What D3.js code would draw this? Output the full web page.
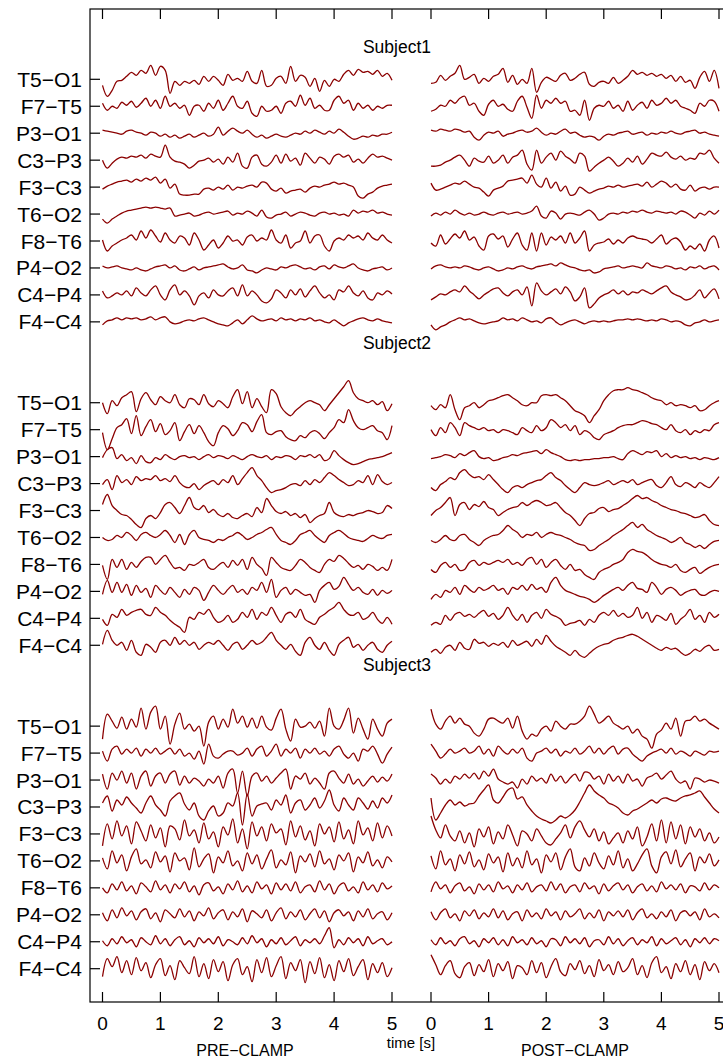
<!DOCTYPE html>
<html>
<head>
<meta charset="utf-8">
<script src="https://cdn.jsdelivr.net/npm/d3@7"></script>
<style>
  body { margin: 0; background: #fff; }
  text { font-family: "Liberation Sans", Arial, sans-serif; fill: #000; }
</style>
</head>
<body>
<div id="chart"></div>
<script>
// channel names (top to bottom in each block)
const channels = ["T5−O1", "F7−T5", "P3−O1", "C3−P3", "F3−C3", "T6−O2", "F8−T6", "P4−O2", "C4−P4", "F4−C4"];
const subjects = ["Subject1", "Subject2", "Subject3"];
const tickValues = [0, 1, 2, 3, 4, 5];
const sampleStep = 5 / 60; // seconds between samples, 61 samples per segment

// traces, one array per channel (arbitrary units, up positive)
const s1Pre = [
  [-6,-17,-11,-2,-1,3,7,4,9,6,14,4,13,9,-14,-2,-6,-2,-4,-1,-5,3,-2,3,-1,-6,5,-1,1,-2,8,-2,-4,9,-7,-6,1,3,-4,13,-2,4,2,-7,1,-12,-1,-7,0,-2,5,9,4,10,7,8,5,9,3,6,-1],
  [3,-4,0,-2,4,1,5,-1,3,8,0,6,-2,10,0,3,-2,1,-9,0,1,-5,3,-2,6,-4,3,10,0,-2,5,-7,-10,0,-5,-4,0,-7,3,5,0,11,1,8,-2,1,-4,-4,6,10,3,6,-4,3,-2,1,-4,0,-2,1,1],
  [3,2,1,0,-1,2,3,1,0,-2,1,0,-3,-1,-4,-2,-5,-3,-1,-4,-2,0,-3,-1,6,-2,2,5,2,0,3,-1,-4,-2,-5,-3,-1,-3,-4,-2,0,-1,2,0,3,1,-1,2,0,4,1,-3,-6,-5,-3,-4,-2,-3,-1,-1,1],
  [0,-8,-3,1,3,2,4,3,5,2,6,4,3,15,3,-1,-2,-4,-8,-5,-1,0,2,-2,1,-4,3,-2,7,-6,-8,3,5,-4,-6,-2,5,-3,6,-1,2,-5,7,2,-3,3,1,-4,4,6,3,5,-2,1,-3,2,6,3,4,2,0],
  [-2,1,3,5,6,7,5,8,6,9,7,10,4,8,-1,3,-7,-8,-8,-7,-7,-2,-1,-3,0,-2,2,-3,0,-1,1,2,0,5,4,-2,-4,-1,-6,-4,-3,-2,-5,-1,1,0,2,3,5,3,4,2,0,-9,-11,-7,-5,-1,1,2,3],
  [-5,-9,-5,-2,1,3,4,5,6,7,6,7,6,5,6,-2,-1,0,1,-2,-1,1,2,0,1,2,3,-1,1,0,3,1,-2,4,-3,-4,-1,0,2,-2,0,2,1,-1,-2,1,2,0,1,-1,0,-2,4,1,3,2,4,1,2,0,-1],
  [1,-10,-5,-2,1,3,6,1,10,3,11,5,-1,8,1,-2,5,3,-4,8,1,-9,-4,1,-7,-2,5,0,1,-4,4,6,0,3,1,11,1,-2,6,-7,-2,0,10,-2,5,6,-5,-10,0,3,1,6,3,5,1,8,3,1,6,1,-2],
  [2,0,1,2,0,-1,-2,0,-2,-3,-1,1,2,3,0,2,-2,-3,-1,1,-2,0,1,2,3,4,1,-1,0,3,-2,-3,-5,-2,0,-1,-2,1,0,2,3,1,-1,0,-2,1,2,-1,3,1,0,2,4,0,-2,-3,-1,0,1,-2,0],
  [4,-3,-1,2,0,4,-1,7,2,-1,5,9,0,-5,5,10,0,4,-1,-10,-1,2,-3,5,0,-1,4,7,-1,10,-1,4,0,-6,-8,-4,5,2,-3,5,0,6,-2,4,9,2,-3,0,-5,5,3,9,2,-1,4,-3,-5,2,0,4,1],
  [-3,1,2,4,2,4,3,4,2,3,5,2,4,5,0,-2,-1,1,2,1,3,4,2,0,-2,-3,-4,-1,2,-2,2,6,3,1,2,3,1,4,2,3,1,3,2,4,1,2,0,-1,2,-1,-4,-1,1,3,4,2,1,3,1,0,-1]
];
const s1Post = [
  [-4,-3,4,-1,3,6,14,0,2,5,-4,1,-2,3,5,11,-3,4,-5,0,-4,11,-13,-3,2,0,-2,4,6,-1,1,5,7,-5,-7,-3,-2,-4,2,-4,-1,3,9,5,7,4,6,3,5,1,4,-2,3,-3,-1,-9,2,8,-2,9,-9],
  [-5,-3,1,0,6,3,8,10,1,3,-5,-9,2,6,0,2,-3,-5,5,10,-1,-12,11,-2,6,3,8,3,5,-5,-4,-9,6,-14,-2,1,0,5,-2,1,-5,5,-4,1,4,-2,6,1,3,8,3,6,0,-2,-4,-7,3,0,6,5,-5],
  [3,2,4,3,2,4,3,1,2,-4,-7,-2,1,0,2,-3,-1,0,2,3,1,2,5,1,-2,0,-1,2,4,0,1,-2,-4,-3,-4,-7,-3,-1,-2,0,1,2,-1,0,1,-2,0,-1,1,0,2,0,-1,1,2,3,0,1,-1,-2,-3],
  [-6,-6,-5,-2,0,3,5,0,-6,2,-1,-2,4,-3,0,5,-3,3,5,10,-4,-10,10,-3,3,7,0,9,4,1,-3,7,4,-11,-7,-3,0,3,-1,-6,-3,2,-2,4,-4,1,7,5,4,8,3,1,4,0,2,1,7,6,10,2,-3],
  [4,-3,-2,0,2,4,3,6,3,0,-1,-5,-9,-3,-1,1,6,7,8,9,4,12,3,0,9,-1,5,-4,1,-8,-7,0,-3,-6,-4,-2,-1,1,0,2,0,1,2,3,1,5,0,3,6,4,0,3,-2,-3,2,-4,-1,0,-2,0,0],
  [-2,1,-1,2,0,4,1,-1,1,-1,0,2,0,-1,1,2,0,1,2,0,1,3,8,-2,-4,3,1,-5,0,1,0,-1,2,4,0,-6,-4,0,1,0,2,1,3,2,4,2,1,3,2,1,2,0,3,2,-1,-4,1,-1,3,0,4],
  [-2,-5,6,-3,2,7,3,10,1,4,-5,-9,5,7,2,5,-6,2,8,-4,-9,8,-10,8,-4,4,1,5,-2,8,-2,3,10,-10,-4,-2,-1,2,-3,1,-2,3,5,3,2,1,-2,2,6,-3,1,3,-1,-9,-5,-8,-3,-10,1,5,-7],
  [-1,2,3,1,0,1,0,2,1,-1,-2,0,1,-1,-3,-2,0,-1,1,2,0,-1,1,2,3,4,2,5,3,1,0,-2,-3,-2,-5,-4,-1,0,1,2,0,1,2,1,0,5,2,1,0,2,1,-1,0,-2,1,0,2,-1,1,2,-2],
  [-5,-2,1,0,3,5,3,9,4,0,-4,0,3,6,7,2,-1,3,5,0,8,-11,12,4,0,3,6,1,8,3,-6,-2,7,-13,-9,-3,0,2,5,1,4,0,3,2,5,3,1,4,7,9,3,0,-2,-5,-4,0,5,-3,2,6,-4],
  [-3,-8,-5,-3,0,2,4,2,3,1,-1,-2,-1,0,1,4,2,3,1,4,2,0,1,-1,3,4,0,-3,-1,1,2,0,-2,0,1,0,1,0,1,2,2,3,2,3,2,1,2,1,3,2,0,1,0,-3,-4,-1,0,2,0,1,2]
];
const s2Pre = [
  [0,-11,2,-3,5,8,11,-9,4,10,3,-2,6,2,0,8,-2,-5,4,3,-2,8,-1,-4,2,-1,-5,6,13,-1,11,-5,4,-4,-10,13,9,-4,-10,-13,-8,-4,0,2,0,-2,-8,-2,4,10,16,22,10,4,2,0,2,-2,1,-8,-1],
  [-3,-20,-9,2,5,11,-4,14,-6,3,10,-2,6,-5,-1,7,-11,-2,5,-4,4,-3,-12,-16,-3,4,1,-6,-1,7,5,-2,8,15,-3,-5,-2,-1,-7,-10,-11,-6,-8,-3,-1,-4,-9,-3,2,10,7,20,9,2,0,2,4,-1,-3,-10,4],
  [-1,7,9,-2,2,-4,-1,-7,1,-5,-6,-1,-3,2,-1,-3,0,1,-1,0,-3,0,2,-1,1,0,-2,1,-1,-3,0,2,0,-1,1,-3,0,-1,1,0,-3,1,0,2,-1,2,-4,-2,6,1,-3,-6,-8,-7,-5,-3,-2,-1,0,2,4],
  [-1,4,-6,8,1,4,-1,7,3,5,4,8,3,5,2,8,1,-3,-4,0,-6,-2,1,3,-1,4,1,8,-1,5,11,16,8,3,-4,-9,-7,-6,-4,-1,0,-2,3,-1,4,1,6,11,8,4,1,-2,-1,3,1,8,-1,9,2,-1,1],
  [6,16,5,0,-4,-5,-9,-14,-17,-8,-5,-8,-2,6,8,3,-3,5,13,3,1,5,-2,1,-4,-6,-3,-7,-8,-5,-3,-6,3,-2,12,5,-1,-3,-1,-5,-3,-7,-4,-12,-8,-5,-3,8,-2,-5,-6,-4,-5,-3,-2,0,-1,-3,-2,5,2],
  [0,-3,-2,2,0,5,2,-3,3,5,2,0,3,7,2,-5,3,-7,3,7,0,-2,-3,-5,-2,-3,0,2,5,2,-2,0,3,5,8,10,3,-3,-5,-7,-3,3,5,7,2,-2,-5,2,5,7,4,0,-2,-3,-4,-1,2,0,-1,2,3],
  [-1,-15,5,-3,5,-5,2,-3,3,7,7,0,5,9,2,-4,-3,-6,0,-1,2,5,-3,-5,-1,2,-3,4,-1,5,-5,7,0,-4,-11,7,2,-3,-5,-6,-1,5,2,-3,-6,-8,0,5,3,9,6,1,-3,-1,-5,0,-2,-6,-3,-6,5],
  [-3,11,-1,9,-1,7,-4,6,-1,3,-6,6,1,-3,4,-1,-6,2,-3,4,1,-9,-1,6,1,-3,2,6,-1,2,-3,4,1,9,-1,12,-6,1,4,-3,2,-1,-4,-3,-11,1,6,9,2,5,14,7,1,4,-1,-3,2,-4,1,-2,1],
  [-1,-7,4,1,9,3,6,8,9,4,3,11,6,3,-2,-6,-9,-14,1,-1,6,4,9,1,-4,-2,3,-4,-1,6,1,9,-1,6,3,11,3,-4,4,6,1,9,-1,-4,-6,1,4,8,11,16,9,4,3,6,-1,1,6,-1,-5,1,-6],
  [1,15,5,0,3,-5,5,-7,-10,1,-2,-7,3,5,0,8,1,5,0,3,-4,0,3,1,5,0,-5,1,3,-4,0,5,1,3,8,13,5,0,-4,1,-6,-10,3,8,0,-4,3,-5,-10,1,5,8,-2,1,-5,0,3,-4,-7,0,4]
];
const s2Post = [
  [-3,-7,-2,-5,8,-7,-17,-5,-3,0,-5,-2,2,3,5,7,8,5,2,-2,-3,0,0,7,8,7,8,5,2,-3,-8,-10,-13,-20,-13,-7,2,8,12,13,13,15,13,12,10,8,5,3,2,-2,0,-3,-2,-3,-5,-3,-8,-7,-3,0,2],
  [0,-6,2,-3,7,2,-6,7,4,2,0,2,-1,0,-3,0,-1,-3,-5,2,-1,-3,4,-1,2,10,7,2,5,-1,4,-5,-1,-3,-8,-10,-5,-3,-1,2,4,5,5,7,9,8,6,5,2,0,5,-1,-3,0,-5,-1,-3,0,-1,5,7],
  [-2,-1,0,2,1,-1,3,1,4,6,0,-2,-1,-4,-3,-1,0,2,1,3,4,5,6,3,7,4,2,0,-3,-4,-3,-4,-3,-3,-2,-2,-1,-1,0,-2,-3,3,6,4,2,5,4,6,0,3,-1,1,-1,0,-2,-1,-3,-1,-2,-3,-1],
  [-4,-7,-1,2,6,4,11,14,9,6,7,4,9,4,-1,-6,-9,-4,-2,-4,-1,1,3,4,8,11,6,3,-2,-6,-9,-4,1,-1,-2,-1,1,3,-1,1,3,1,4,-1,1,3,4,-2,-4,1,7,-1,-3,1,-1,-4,1,-2,-4,1,7],
  [-5,0,3,8,13,-5,6,8,1,6,4,9,3,1,-5,-2,1,3,4,8,5,8,10,8,5,6,8,3,-2,-5,-10,-15,-8,-3,-2,2,3,-1,1,2,5,8,12,15,12,13,10,8,5,3,1,0,-2,-3,-5,-7,-6,-4,-10,-14,-15],
  [-3,-5,-2,2,-2,-3,2,3,-2,-5,-8,-3,0,2,3,7,12,8,5,0,3,2,5,0,3,5,3,2,0,-2,-5,-7,-8,-13,-12,-8,-5,-2,2,5,8,12,15,10,13,8,5,2,0,-2,-5,-3,0,-5,-7,-10,-8,-11,-7,-4,-3],
  [-5,-8,-1,2,-3,0,-6,-5,2,4,-1,2,0,2,4,2,5,0,2,-1,5,7,0,5,-3,2,5,-1,-5,0,-6,-5,-10,-13,-15,-8,-5,-3,0,2,5,12,15,13,12,9,5,2,0,-1,-3,0,-6,-8,-5,-3,-9,-6,-3,-1,0],
  [-8,-3,-6,1,-1,4,-3,6,2,-1,4,1,3,6,1,3,-3,4,2,6,1,7,2,4,-1,9,14,6,1,-1,-3,-5,-6,-8,-11,-8,-4,-1,2,4,1,6,9,3,2,-1,9,4,-3,2,4,1,-4,-1,1,2,-3,-4,-1,1,0],
  [-7,-4,-6,3,-2,4,6,2,4,1,5,8,2,5,-1,3,11,3,-2,4,-4,3,6,0,9,4,2,-1,-7,-5,-4,-2,-7,-1,-4,3,6,3,8,2,5,1,3,11,0,6,-4,3,1,-2,5,-6,-1,3,9,-1,3,-4,6,1,4],
  [-7,-4,-8,-2,0,-5,3,-3,-4,6,2,3,-1,2,0,3,-2,5,0,2,4,-1,6,1,10,4,-1,-4,-7,-10,-5,-10,-12,-8,-4,-1,1,2,5,7,8,10,11,9,6,3,0,-3,-5,-2,-4,-3,-7,-10,-8,-4,-6,-2,0,-5,-4]
];
const s3Pre = [
  [-13,12,5,-2,9,-3,7,-1,18,-3,14,20,-3,10,-18,2,13,-3,2,-5,0,-20,4,10,-3,7,-1,17,3,10,-1,8,-2,10,-1,-4,8,17,-3,-15,7,-1,0,4,-2,5,-10,18,0,-3,6,18,-7,8,-3,-13,7,-3,-10,3,7],
  [2,-8,4,7,-1,4,0,5,-3,4,0,5,-1,2,5,-1,4,-3,0,-6,2,-11,9,-3,-5,-1,2,2,-2,0,5,-3,4,7,-3,2,9,-3,4,0,5,-5,4,0,5,-1,2,-3,4,7,-1,-5,0,-8,4,2,7,-1,-10,-1,6],
  [6,-9,7,0,9,-3,7,-9,4,9,-6,4,7,-3,6,9,-5,4,-3,2,-1,-6,1,-3,4,-8,7,11,-13,9,-16,4,7,-1,4,-3,2,7,11,-9,4,1,7,-4,2,-3,-9,7,9,2,-3,6,-4,1,-6,-1,4,-2,3,-1,6],
  [4,11,-4,7,2,10,4,-1,-6,4,11,2,-3,-9,6,11,14,3,-3,4,-9,-13,-4,1,-9,-6,4,1,14,-18,13,-9,1,3,4,-3,7,2,12,-6,4,7,-3,2,9,-1,6,17,2,-4,9,2,-3,9,4,-2,6,-1,9,4,12],
  [-12,10,-5,13,-2,8,-10,12,3,-7,9,-4,6,-13,8,5,-6,14,-2,4,-9,11,-5,2,-13,7,-1,15,-9,5,-15,12,-2,7,-7,10,1,5,-11,13,-3,8,-6,3,-12,10,0,7,-8,12,-5,4,-10,13,-1,6,-7,11,-4,8,-2],
  [3,-8,10,-2,6,-10,4,12,-3,1,-7,9,-1,5,-11,8,0,3,-9,13,-6,2,7,-12,4,-2,10,-5,0,-10,8,-3,6,-8,2,11,-7,1,-4,9,-12,5,-1,7,-6,10,-3,2,-9,6,0,8,-11,4,-2,9,-5,1,-7,4,-1],
  [0,-5,4,-2,6,-3,2,-6,5,1,-4,7,-2,3,-5,4,-1,6,-4,2,-7,3,5,-3,1,-6,4,-2,7,-4,2,-5,6,-1,3,-6,5,-2,4,-3,6,-5,1,3,-4,7,-2,4,-6,2,5,-3,1,-5,6,-2,3,-4,5,-1,2],
  [2,-6,5,-3,7,-1,4,-5,3,6,-4,2,-7,5,1,-3,6,-2,4,-6,3,-1,7,-4,2,5,-5,3,-2,6,-7,4,1,-3,5,-6,2,7,-4,3,-2,5,-5,1,6,-3,4,-7,2,5,-1,3,-6,4,-2,6,-4,1,3,-5,2],
  [1,-4,3,-2,5,-1,2,-5,4,0,-3,6,-2,3,-4,2,5,-3,1,-5,4,-1,3,-2,5,-4,2,0,-3,4,-2,6,-1,3,-5,2,-2,4,-3,1,5,-4,2,-1,3,-2,6,14,-6,2,-3,4,-1,3,-4,5,-2,1,3,-3,0],
  [-8,10,2,12,-4,8,-6,11,-2,6,-9,4,10,-7,3,-11,8,1,-5,12,-8,5,-10,9,-3,7,-12,4,10,-6,2,-13,9,-4,11,-8,3,12,-10,6,-2,9,-14,7,-5,11,-9,4,-12,8,-3,10,-7,2,9,-11,5,-4,6,-8,1]
];
const s3Post = [
  [17,2,-3,5,10,3,8,2,0,-7,-10,-3,7,8,5,3,8,-2,10,-5,-13,-8,-10,-3,0,-5,5,0,-3,2,2,5,10,20,12,3,6,10,3,0,-3,0,-7,-3,-10,-13,-22,-8,-4,3,-3,8,-10,5,6,10,5,7,3,0,-3],
  [9,2,-5,-1,4,0,2,5,0,2,7,-1,4,-3,7,2,-1,4,0,5,-5,-8,0,2,5,0,4,-3,2,0,5,-1,2,7,0,5,-1,4,7,-1,4,5,-1,-5,-8,-3,0,2,4,0,5,-1,2,0,-3,2,0,-2,2,1,2],
  [6,2,-4,1,-3,4,1,6,2,7,1,9,4,11,1,-2,-4,-2,-8,1,-4,4,-1,2,-3,6,-1,4,-3,2,6,-1,8,7,1,4,-4,6,-1,4,-3,6,-1,1,-6,2,4,7,1,5,9,1,-3,-1,-9,2,1,-2,0,-1,-3],
  [9,-13,-6,2,7,2,5,1,3,4,11,17,22,7,4,10,17,19,8,10,2,-4,-9,-12,-14,-16,-13,-9,-11,-8,-3,5,14,22,16,12,9,4,2,-1,-6,-8,-4,-2,1,4,7,4,8,9,7,6,9,11,12,14,16,10,4,-2,-6],
  [18,4,-4,9,-2,-7,3,-9,1,-13,5,-3,7,-10,2,-5,9,-1,-12,3,0,-7,5,-2,-9,-11,-5,1,9,-4,7,13,4,-3,5,-7,2,-10,-4,1,-9,3,-5,7,-12,-3,10,-7,14,-9,12,-5,9,-10,7,-3,5,-7,1,-9,-3],
  [5,-8,10,-4,2,-10,6,-3,9,-6,1,-9,7,-2,4,-11,8,-5,3,-7,10,-4,2,-12,6,-1,8,-9,4,12,-6,-10,3,-5,8,-2,-8,5,-4,10,-7,2,-10,-3,6,12,-5,-12,4,9,-3,11,-6,2,8,-10,4,-2,7,-5,1],
  [-4,6,-1,3,-5,2,5,-3,1,-6,4,-2,3,-4,6,-1,2,-5,3,-2,5,-4,1,3,-3,6,-2,4,-5,1,3,-4,5,-1,2,-6,4,-3,2,5,-2,3,-5,1,4,-3,2,-4,6,-1,3,-2,4,-5,2,1,-3,5,-2,3,0],
  [3,-5,2,6,-3,1,-6,4,-1,5,-4,2,-2,6,-3,4,-5,1,3,-6,5,-2,2,-4,6,-1,3,-5,4,-2,1,6,-4,2,-3,5,-6,3,-1,4,-2,5,-5,2,6,-3,1,-4,3,-2,5,-6,2,4,-1,3,-5,6,-2,1,-3],
  [2,-3,4,-2,1,-4,3,5,-2,1,-5,3,-1,4,-3,2,-4,5,-1,2,-3,4,-2,1,-5,3,2,-4,5,-1,3,-2,4,-5,1,2,-3,5,-2,3,-4,1,4,-3,2,-1,5,-4,3,-2,1,4,-3,2,-5,3,-1,4,-2,3,1],
  [14,4,-6,3,8,-5,-9,2,6,-7,4,-3,9,-8,5,-2,7,-10,3,1,-6,8,-4,6,-9,2,10,-3,-7,5,-1,8,-5,3,-8,9,-2,4,-6,7,-3,1,10,-6,3,-9,6,12,-4,2,-10,5,-3,8,-6,4,-11,7,-2,5,-4]
];
const traces = [[s1Pre, s1Post], [s2Pre, s2Post], [s3Pre, s3Post]];

// layout
const width = 723, height = 1063;
const frame = { left: 90, right: 731, top: 9, bottom: 1002 };
const tickLen = 10;

const svg = d3.select("#chart").append("svg")
  .attr("width", width)
  .attr("height", height)
  .style("display", "block");

svg.append("rect").attr("width", width).attr("height", height).attr("fill", "#fff");

// two time axes side by side
const xPre = d3.scaleLinear().domain([0, 5]).range([102.5, 392]);
const xPost = d3.scaleLinear().domain([0, 5]).range([431, 719]);
const xScales = [xPre, xPost];

// row index (12 rows per subject block) -> baseline y
const yRow = d3.scaleLinear().domain([0, 33]).range([79.3, 968.7]);
// signal units -> pixel offset
const yAmp = d3.scaleLinear().domain([-1, 1]).range([1, -1]);

// title rows, in the same row units
const titleRow = [-1.2, 9.75, 21.7];

// traces
traces.forEach((pair, s) => {
  pair.forEach((block, seg) => {
    const x = xScales[seg];
    block.forEach((vals, c) => {
      const base = yRow(s * 12 + c);
      const line = d3.line()
        .curve(d3.curveCatmullRom.alpha(0.5))
        .x((d, i) => x(i * sampleStep))
        .y(d => base + yAmp(d));
      svg.append("path")
        .datum(vals)
        .attr("d", line)
        .attr("fill", "none")
        .attr("stroke", "#8b0000")
        .attr("stroke-width", 1.3)
        .attr("stroke-linejoin", "round");
    });
  });
});

// frame
svg.append("rect")
  .attr("x", frame.left)
  .attr("y", frame.top)
  .attr("width", frame.right - frame.left)
  .attr("height", frame.bottom - frame.top)
  .attr("fill", "none")
  .attr("stroke", "#000")
  .attr("stroke-width", 1.2);

// time ticks, top and bottom, pointing inwards
xScales.forEach(x => {
  tickValues.forEach(t => {
    svg.append("line")
      .attr("x1", x(t)).attr("x2", x(t))
      .attr("y1", frame.top).attr("y2", frame.top + tickLen)
      .attr("stroke", "#000").attr("stroke-width", 1.2);
    svg.append("line")
      .attr("x1", x(t)).attr("x2", x(t))
      .attr("y1", frame.bottom).attr("y2", frame.bottom - tickLen)
      .attr("stroke", "#000").attr("stroke-width", 1.2);
    svg.append("text")
      .attr("x", x(t))
      .attr("y", 1030)
      .attr("text-anchor", "middle")
      .style("font-size", "19px")
      .text(t);
  });
});

// channel ticks and labels
subjects.forEach((name, s) => {
  channels.forEach((ch, c) => {
    const y = yRow(s * 12 + c);
    svg.append("line")
      .attr("x1", frame.left).attr("x2", frame.left + tickLen)
      .attr("y1", y).attr("y2", y)
      .attr("stroke", "#000").attr("stroke-width", 1.2);
    svg.append("text")
      .attr("x", 82)
      .attr("y", y + 7.5)
      .attr("text-anchor", "end")
      .style("font-size", "21px")
      .text(ch);
  });
  svg.append("text")
    .attr("x", 397)
    .attr("y", yRow(titleRow[s]) + 6.5)
    .attr("text-anchor", "middle")
    .style("font-size", "17.5px")
    .text(name);
});

// axis captions
svg.append("text").attr("x", 245).attr("y", 1056).attr("text-anchor", "middle")
  .style("font-size", "16px").text("PRE−CLAMP");
svg.append("text").attr("x", 575).attr("y", 1056).attr("text-anchor", "middle")
  .style("font-size", "16px").text("POST−CLAMP");
svg.append("text").attr("x", 411).attr("y", 1048).attr("text-anchor", "middle")
  .style("font-size", "15px").text("time [s]");
</script>
</body>
</html>
